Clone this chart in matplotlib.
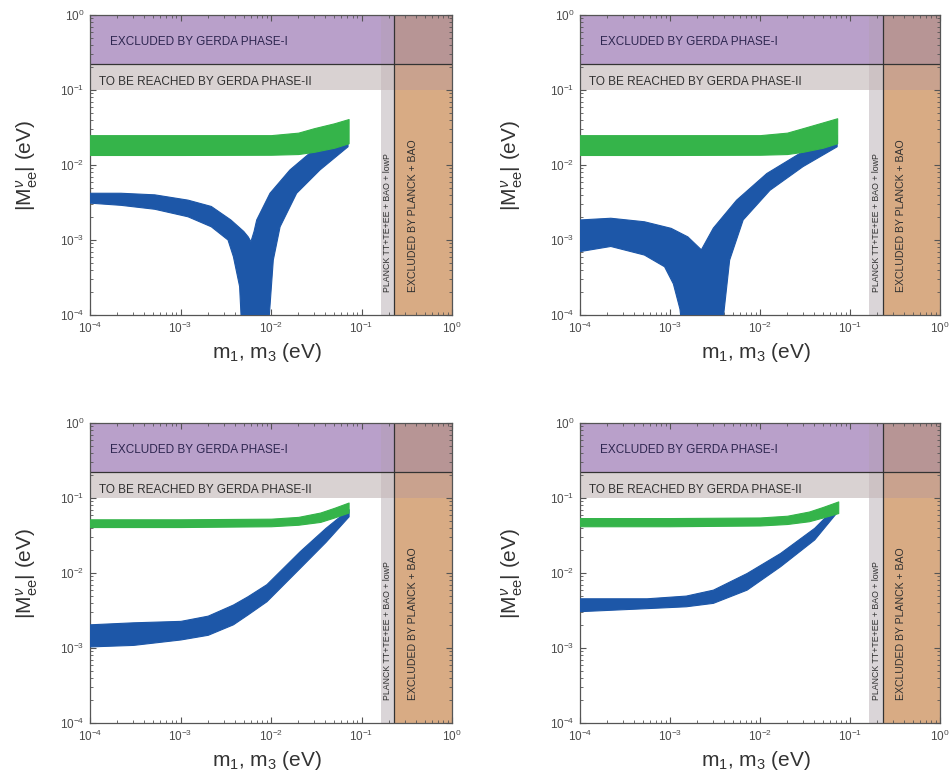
"""
|M_ee| versus lightest neutrino mass, four panels
"""

import matplotlib
matplotlib.use("Agg")
import matplotlib.pyplot as plt
from matplotlib.ticker import LogLocator

plt.rcParams['font.family'] = ['Liberation Sans', 'DejaVu Sans']
plt.rcParams['mathtext.fontset'] = 'custom'
plt.rcParams['mathtext.rm'] = 'Liberation Sans'
plt.rcParams['mathtext.it'] = 'Liberation Sans:italic'
plt.rcParams['mathtext.bf'] = 'Liberation Sans:bold'

# limits of the shaded regions (eV)
gerda1_lo = 0.22      # excluded by GERDA phase-I above this
gerda2_lo = 0.10      # reach of GERDA phase-II
planck_tt_lo = 0.164  # Planck TT+TE+EE + BAO band
planck_bao_lo = 0.23  # excluded by Planck + BAO

# panel (a): top left
a_green_m = [1e-4, 1e-3, 1e-2, 2e-2, 3e-2, 5e-2, 7.2e-2]
a_green_hi = [0.025, 0.025, 0.025, 0.027, 0.031, 0.036, 0.041]
a_green_lo = [0.0136, 0.0136, 0.0137, 0.014, 0.015, 0.017, 0.0195]
a_blue_up_m = [1e-4, 2.2e-4, 5.2e-4, 1.21e-3, 2.19e-3, 3.6e-3, 5.0e-3, 5.6e-3, 6.0e-3,
               6.5e-3, 6.95e-3, 9.75e-3, 1.62e-2, 2.94e-2, 4.5e-2, 7.1e-2]
a_blue_up_M = [4.2e-3, 4.2e-3, 4.0e-3, 3.4e-3, 2.8e-3, 1.85e-3, 1.3e-3, 1.1e-3, 9.5e-4,
               1.3e-3, 1.85e-3, 4.2e-3, 8.6e-3, 1.58e-2, 2.4e-2, 3.0e-2]
a_blue_lo_m = [1e-4, 2.2e-4, 5.2e-4, 1.21e-3, 2.19e-3, 3.35e-3, 3.84e-3, 4.5e-3,
               4.8e-3, 9.2e-3, 1.06e-2, 1.26e-2, 1.92e-2, 3.48e-2, 7.1e-2]
a_blue_lo_M = [3.1e-3, 2.9e-3, 2.57e-3, 2.04e-3, 1.5e-3, 1.0e-3, 6.0e-4, 2.4e-4,
               5e-5, 5e-5, 5.4e-4, 1.5e-3, 4.2e-3, 8.6e-3, 1.75e-2]

# panel (b): top right
b_green_m = [1e-4, 1e-3, 1e-2, 2e-2, 3e-2, 5e-2, 7.2e-2]
b_green_hi = [0.025, 0.025, 0.025, 0.027, 0.031, 0.037, 0.042]
b_green_lo = [0.0136, 0.0136, 0.0137, 0.014, 0.015, 0.017, 0.0195]
b_blue_up_m = [1e-4, 2.2e-4, 5.2e-4, 1.03e-3, 1.58e-3, 2.23e-3, 3.03e-3, 5.5e-3,
               1.19e-2, 2.78e-2, 6.5e-2, 7.2e-2]
b_blue_up_M = [1.85e-3, 1.95e-3, 1.75e-3, 1.43e-3, 1.1e-3, 7.4e-4, 1.44e-3, 3.4e-3,
               7.7e-3, 1.43e-2, 2.3e-2, 2.5e-2]
b_blue_lo_m = [1e-4, 2.2e-4, 5.2e-4, 8.7e-4, 1.09e-3, 1.29e-3, 1.4e-3, 3.7e-3,
               4.6e-3, 6.5e-3, 1.29e-2, 3.0e-2, 7.2e-2]
b_blue_lo_M = [7.0e-4, 8.2e-4, 6.3e-4, 4.4e-4, 2.6e-4, 1.2e-4, 5e-5, 5e-5,
               5.4e-4, 1.85e-3, 4.6e-3, 9.5e-3, 1.75e-2]

# panel (c): bottom left
c_green_m = [1e-4, 1e-3, 1e-2, 2e-2, 3.5e-2, 5e-2, 7.2e-2]
c_green_hi = [0.052, 0.052, 0.053, 0.056, 0.064, 0.074, 0.087]
c_green_lo = [0.041, 0.041, 0.042, 0.044, 0.048, 0.055, 0.064]
c_blue_m = [1e-4, 3e-4, 1e-3, 2e-3, 3.8e-3, 5.5e-3, 8.9e-3, 2.09e-2, 4e-2, 7.2e-2]
c_blue_hi = [2.07e-3, 2.2e-3, 2.3e-3, 2.7e-3, 3.8e-3, 4.9e-3, 7.1e-3, 1.97e-2, 4.0e-2, 7.1e-2]
c_blue_lo = [1.05e-3, 1.1e-3, 1.3e-3, 1.5e-3, 2.07e-3, 2.8e-3, 4.2e-3, 1.18e-2, 2.6e-2, 5.7e-2]

# panel (d): bottom right
d_green_m = [1e-4, 1e-3, 1e-2, 2e-2, 3.5e-2, 5e-2, 7.4e-2]
d_green_hi = [0.054, 0.054, 0.055, 0.058, 0.066, 0.076, 0.09]
d_green_lo = [0.042, 0.042, 0.043, 0.045, 0.049, 0.055, 0.063]
d_blue_m = [1e-4, 5.5e-4, 1.5e-3, 3.0e-3, 7.1e-3, 1.67e-2, 4e-2, 7.2e-2]
d_blue_hi = [4.6e-3, 4.6e-3, 5.0e-3, 6.0e-3, 1.0e-2, 1.85e-2, 4.0e-2, 8.1e-2]
d_blue_lo = [3.1e-3, 3.4e-3, 3.6e-3, 4.0e-3, 6.0e-3, 1.23e-2, 2.8e-2, 6.6e-2]

GREEN = '#35b44a'
BLUE = '#1d57a8'


def rect(ax, x0, x1, y0, y1, color):
    ax.fill_between([x0, x1], [y0, y0], [y1, y1], color=color, lw=0, zorder=0)


def draw_background(ax):
    """Excluded / reachable regions"""
    rect(ax, 1e-4, planck_tt_lo, gerda1_lo, 1.0, '#b9a0ca')
    rect(ax, planck_tt_lo, planck_bao_lo, gerda1_lo, 1.0, '#b69fbf')
    rect(ax, planck_bao_lo, 1.0, gerda1_lo, 1.0, '#b79595')
    rect(ax, 1e-4, planck_tt_lo, gerda2_lo, gerda1_lo, '#d9d2d2')
    rect(ax, planck_tt_lo, planck_bao_lo, gerda2_lo, gerda1_lo, '#cdc2c4')
    rect(ax, planck_bao_lo, 1.0, gerda2_lo, gerda1_lo, '#c9a28e')
    rect(ax, planck_tt_lo, planck_bao_lo, 1e-4, gerda2_lo, '#dad5d8')
    rect(ax, planck_bao_lo, 1.0, 1e-4, gerda2_lo, '#d8ab84')
    ax.axhline(gerda1_lo, color='#333333', lw=0.9, zorder=2)
    ax.axvline(planck_bao_lo, color='#333333', lw=0.9, zorder=2)

    ax.text(1.66e-4, 0.44, 'EXCLUDED BY GERDA PHASE-I', fontsize=8.5,
            color='#2e2650', va='center', ha='left', zorder=5)
    ax.text(1.25e-4, 0.128, 'TO BE REACHED BY GERDA PHASE-II', fontsize=8.5,
            color='#303030', va='center', ha='left', zorder=5)
    ax.text(0.195, 2.0e-4, 'PLANCK TT+TE+EE + BAO + lowP', fontsize=6.3,
            rotation=90, color='#303030', va='bottom', ha='center', zorder=5)
    ax.text(0.37, 2.0e-4, 'EXCLUDED BY PLANCK + BAO', fontsize=7.6,
            rotation=90, color='#303030', va='bottom', ha='center', zorder=5)


def draw_band(ax, up_m, up_M, lo_m, lo_M, color, z):
    xs = list(up_m) + list(lo_m)[::-1]
    ys = list(up_M) + list(lo_M)[::-1]
    ax.fill(xs, ys, color=color, lw=0.8, ec=color, zorder=z)


def style_axes(ax, left_col):
    ax.set_xscale('log')
    ax.set_yscale('log')
    ax.set_xlim(1e-4, 1.0)
    ax.set_ylim(1e-4, 1.0)
    ax.xaxis.set_major_locator(LogLocator(base=10, numticks=10))
    ax.yaxis.set_major_locator(LogLocator(base=10, numticks=10))
    ax.tick_params(which='both', direction='in', top=True, right=True,
                   color='#555555', labelcolor='#4a4a4a', labelsize=8.5)
    ax.tick_params(which='major', length=4, pad=4)
    ax.tick_params(which='minor', length=2)
    for s in ax.spines.values():
        s.set_color('#555555')
        s.set_linewidth(0.9)
    ax.set_xlabel(r'm$_1$, m$_3$ (eV)', fontsize=15, color='#333333')
    ax.set_ylabel(r'|M$^{\nu}_{\mathrm{ee}}$| (eV)', fontsize=15, color='#333333')
    ax.xaxis.set_label_coords(0.49, -0.088)
    ax.yaxis.set_label_coords(-0.138 if left_col else -0.153, 0.5)


fig = plt.figure(figsize=(9.5, 7.8), dpi=100)
W, H = 950.0, 780.0
boxes = [
    (90 / W, 1 - 315 / H, 362 / W, 300 / H),
    (580 / W, 1 - 315 / H, 360 / W, 300 / H),
    (90 / W, 1 - 723 / H, 362 / W, 300 / H),
    (580 / W, 1 - 723 / H, 360 / W, 300 / H),
]
axes = [fig.add_axes(b) for b in boxes]

# (a)
ax = axes[0]
draw_background(ax)
draw_band(ax, a_blue_up_m, a_blue_up_M, a_blue_lo_m, a_blue_lo_M, BLUE, 3)
ax.fill_between(a_green_m, a_green_lo, a_green_hi, color=GREEN, lw=0.8, ec=GREEN, zorder=4)
style_axes(ax, True)

# (b)
ax = axes[1]
draw_background(ax)
draw_band(ax, b_blue_up_m, b_blue_up_M, b_blue_lo_m, b_blue_lo_M, BLUE, 3)
ax.fill_between(b_green_m, b_green_lo, b_green_hi, color=GREEN, lw=0.8, ec=GREEN, zorder=4)
style_axes(ax, False)

# (c)
ax = axes[2]
draw_background(ax)
ax.fill_between(c_blue_m, c_blue_lo, c_blue_hi, color=BLUE, lw=0.8, ec=BLUE, zorder=3)
ax.fill_between(c_green_m, c_green_lo, c_green_hi, color=GREEN, lw=0.8, ec=GREEN, zorder=4)
style_axes(ax, True)

# (d)
ax = axes[3]
draw_background(ax)
ax.fill_between(d_blue_m, d_blue_lo, d_blue_hi, color=BLUE, lw=0.8, ec=BLUE, zorder=3)
ax.fill_between(d_green_m, d_green_lo, d_green_hi, color=GREEN, lw=0.8, ec=GREEN, zorder=4)
style_axes(ax, False)

fig.savefig('out.png', dpi=100)
